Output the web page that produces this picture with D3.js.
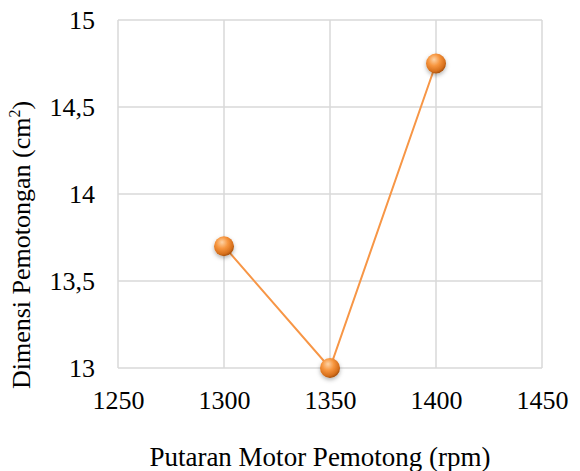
<!DOCTYPE html>
<html>
<head>
<meta charset="utf-8">
<script src="https://cdn.jsdelivr.net/npm/d3@7"></script>
<style>
  body { margin: 0; background: #fff; }
  text { font-family: "Liberation Serif", "Times New Roman", serif; fill: #000; }
</style>
</head>
<body>
<svg id="chart" width="580" height="471"></svg>
<script>
// data
var rpm = [1300, 1350, 1400];
var dimensi = [13.7, 13.0, 14.75];
var xTicks = [1250, 1300, 1350, 1400, 1450];
var yTicks = [13, 13.5, 14, 14.5, 15];

var svg = d3.select("#chart");
var plotLeft = 118, plotRight = 542, plotTop = 20, plotBottom = 368;
var fs = 26;

var x = d3.scaleLinear().domain([1250, 1450]).range([plotLeft, plotRight]);
var y = d3.scaleLinear().domain([13, 15]).range([plotBottom, plotTop]);

// sphere look for the markers
var defs = svg.append("defs");
var grad = defs.append("radialGradient")
    .attr("id", "ball")
    .attr("cx", "40%").attr("cy", "35%").attr("r", "65%")
    .attr("fx", "40%").attr("fy", "30%");
grad.append("stop").attr("offset", "0%").attr("stop-color", "#fdd3a6");
grad.append("stop").attr("offset", "45%").attr("stop-color", "#f7963f");
grad.append("stop").attr("offset", "85%").attr("stop-color", "#d66f1c");
grad.append("stop").attr("offset", "100%").attr("stop-color", "#a9530f");
var shadow = defs.append("filter").attr("id", "shadow")
    .attr("x", "-50%").attr("y", "-50%").attr("width", "200%").attr("height", "200%");
shadow.append("feDropShadow").attr("dx", 0).attr("dy", 2).attr("stdDeviation", 2)
    .attr("flood-color", "#000").attr("flood-opacity", 0.3);

// grid
svg.append("g").selectAll("line").data(xTicks).enter().append("line")
    .attr("x1", function(d) { return x(d); }).attr("x2", function(d) { return x(d); })
    .attr("y1", plotTop).attr("y2", plotBottom)
    .attr("stroke", "#d9d9d9").attr("stroke-width", 1.5);
svg.append("g").selectAll("line").data(yTicks).enter().append("line")
    .attr("x1", plotLeft).attr("x2", plotRight)
    .attr("y1", function(d) { return y(d); }).attr("y2", function(d) { return y(d); })
    .attr("stroke", "#d9d9d9").attr("stroke-width", 1.5);

// axes (labels only)
var xAxis = svg.append("g")
    .attr("transform", "translate(0," + plotBottom + ")")
    .call(d3.axisBottom(x).tickValues(xTicks).tickSize(0).tickPadding(23).tickFormat(d3.format("d")));
var yAxis = svg.append("g")
    .attr("transform", "translate(" + plotLeft + ",0)")
    .call(d3.axisLeft(y).tickValues(yTicks).tickSize(0).tickPadding(23)
        .tickFormat(function(d) { return String(d).replace(".", ","); }));
[xAxis, yAxis].forEach(function(a) {
    a.attr("font-family", null);
    a.select(".domain").remove();
    a.selectAll("text").attr("font-size", fs).attr("fill", "#000");
});

// line + markers
var line = d3.line()
    .x(function(d, i) { return x(rpm[i]); })
    .y(function(d) { return y(d); });
svg.append("path").datum(dimensi)
    .attr("d", line).attr("fill", "none")
    .attr("stroke", "#f79646").attr("stroke-width", 2);
svg.append("g").selectAll("circle").data(dimensi).enter().append("circle")
    .attr("cx", function(d, i) { return x(rpm[i]); })
    .attr("cy", function(d) { return y(d); })
    .attr("r", 10)
    .attr("fill", "url(#ball)")
    .attr("filter", "url(#shadow)");

// titles
svg.append("text")
    .attr("x", 320).attr("y", 466)
    .attr("text-anchor", "middle").attr("font-size", 27)
    .text("Putaran Motor Pemotong (rpm)");
var yt = svg.append("text")
    .attr("transform", "translate(30,245) rotate(-90)")
    .attr("text-anchor", "middle").attr("font-size", fs);
yt.append("tspan").text("Dimensi Pemotongan (cm");
yt.append("tspan").attr("font-size", 16).attr("dy", -10).text("2");
yt.append("tspan").attr("dy", 10).text(")");
</script>
</body>
</html>
